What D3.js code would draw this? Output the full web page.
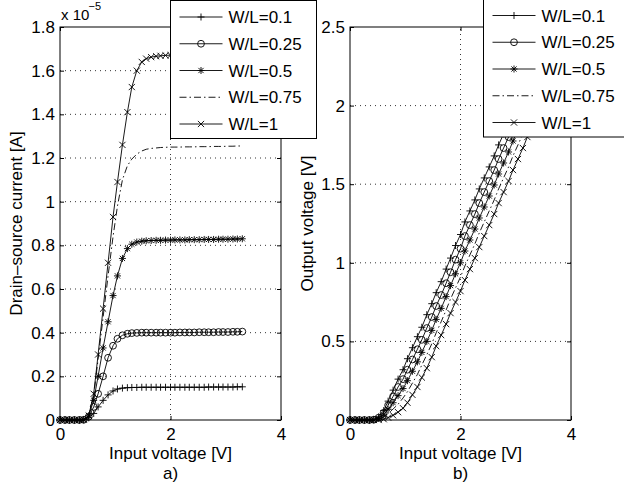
<!DOCTYPE html>
<html lang="en">
<head>
<meta charset="UTF-8">
<title>W/L sweep</title>
<script src="https://cdn.jsdelivr.net/npm/d3@7"></script>
<style>
  body { margin: 0; background: #fff; }
  text { font-family: "Liberation Sans", Arial, Helvetica, sans-serif; fill: #000; }
</style>
</head>
<body>
<svg id="chart" width="624" height="488"></svg>
<script>
// input voltage sweep [V]
var vin = [0, 0.09, 0.17, 0.26, 0.35, 0.43, 0.52, 0.61, 0.69, 0.78, 0.87, 0.96, 1.04, 1.13, 1.22, 1.30, 1.39, 1.48, 1.56, 1.65,
           1.74, 1.82, 1.91, 2.00, 2.08, 2.17, 2.26, 2.34, 2.43, 2.52, 2.61, 2.69, 2.78, 2.87, 2.95, 3.04, 3.13, 3.21, 3.30];

// a) drain-source current, in units of 1e-5 A
var idWL01  = [0,0,0,0,0,0.001,0.01,0.03,0.06,0.09,0.115,0.133,0.142,0.146,0.148,0.149,0.149,
               0.15,0.15,0.15,0.15,0.15,0.15,0.15,0.15,0.15,0.15,0.15,0.15,0.15,0.15,0.151,0.151,0.151,0.151,0.151,0.151,0.152,0.152];
var idWL025 = [0,0,0,0,0,0.001,0.015,0.06,0.12,0.2,0.285,0.34,0.372,0.388,0.395,0.398,0.399,
               0.4,0.4,0.4,0.4,0.4,0.4,0.4,0.4,0.401,0.401,0.401,0.401,0.402,0.402,0.402,0.402,0.403,0.403,0.403,0.404,0.404,0.405];
var idWL05  = [0,0,0,0,0,0.002,0.02,0.09,0.2,0.33,0.45,0.57,0.66,0.74,0.785,0.805,0.815,0.819,0.821,0.822,0.823,
               0.823,0.824,0.824,0.825,0.825,0.825,0.826,0.826,0.826,0.827,0.827,0.827,0.828,0.828,0.828,0.829,0.829,0.83];
var idWL075 = [0,0,0,0,0,0.002,0.02,0.11,0.28,0.47,0.66,0.84,0.98,1.10,1.165,1.195,1.218,1.232,1.24,1.244,1.246,1.248,1.249,
               1.25,1.25,1.25,1.251,1.251,1.251,1.252,1.252,1.252,1.253,1.253,1.253,1.254,1.254,1.255,1.255];
var idWL1   = [0,0,0,0,0,0.002,0.02,0.12,0.30,0.51,0.72,0.93,1.09,1.26,1.41,1.525,1.60,1.64,1.655,1.662,1.666,1.668,1.67,
               1.671,1.672,1.672,1.673,1.673,1.674,1.674,1.675,1.675,1.676,1.676,1.677,1.677,1.678,1.678,1.679];

// b) output voltage [V]
var voutWL01  = [0,0,0,0,0,0.003,0.02,0.06,0.12,0.19,0.26,0.32,0.39,0.46,0.53,0.59,0.67,0.74,0.81,0.88,0.96,1.03,1.11,1.18,
                 1.26,1.33,1.40,1.47,1.54,1.61,1.68,1.75,1.82,1.89,1.96,2.03,2.10,2.17,2.24];
var voutWL025 = [0,0,0,0,0,0.002,0.015,0.046,0.094,0.15,0.21,0.26,0.32,0.385,0.45,0.51,0.585,0.655,0.725,0.795,0.87,0.94,1.02,
                 1.09,1.17,1.24,1.31,1.38,1.45,1.52,1.59,1.66,1.73,1.80,1.87,1.94,2.01,2.08,2.15];
var voutWL05  = [0,0,0,0,0,0.001,0.01,0.033,0.068,0.11,0.155,0.20,0.25,0.31,0.37,0.43,0.50,0.57,0.64,0.71,0.785,0.855,0.93,
                 1.00,1.075,1.145,1.215,1.285,1.355,1.425,1.495,1.565,1.635,1.705,1.775,1.845,1.915,1.985,2.055];
var voutWL075 = [0,0,0,0,0,0.001,0.005,0.019,0.041,0.07,0.10,0.14,0.18,0.235,0.29,0.35,0.415,0.485,0.555,0.625,0.70,0.77,0.84,
                 0.91,0.98,1.05,1.12,1.19,1.26,1.33,1.40,1.47,1.54,1.61,1.68,1.75,1.82,1.89,1.96];
var voutWL1   = [0,0,0,0,0,0,0,0.005,0.015,0.03,0.05,0.075,0.11,0.16,0.21,0.27,0.33,0.40,0.47,0.54,0.61,0.68,0.75,0.82,
                 0.89,0.96,1.03,1.10,1.17,1.24,1.31,1.38,1.45,1.52,1.59,1.66,1.73,1.80,1.87];

var seriesNames = ["W/L=0.1", "W/L=0.25", "W/L=0.5", "W/L=0.75", "W/L=1"];
var markers = ["plus", "circle", "star", "none", "cross"];

var xTicks = [0, 2, 4];
var yTicksA = [0, 0.2, 0.4, 0.6, 0.8, 1, 1.2, 1.4, 1.6, 1.8];
var yTicksB = [0, 0.5, 1, 1.5, 2, 2.5];

var svg = d3.select("#chart");

function markerPath(type) {
    var r = 3.5, c = 3.1;
    if (type == "plus") return "M" + (-r) + ",0H" + r + "M0," + (-r) + "V" + r;
    if (type == "cross") return "M" + (-c) + "," + (-c) + "L" + c + "," + c + "M" + (-c) + "," + c + "L" + c + "," + (-c);
    if (type == "star") return "M" + (-r) + ",0H" + r + "M0," + (-r) + "V" + r +
        "M" + (-2.6) + "," + (-2.6) + "L2.6,2.6M-2.6,2.6L2.6,-2.6";
    return "";
}

function drawMarker(g, type, x, y) {
    if (type == "none") return;
    if (type == "circle") {
        g.append("circle").attr("cx", x).attr("cy", y).attr("r", 3.4)
            .attr("fill", "none").attr("stroke", "#000").attr("stroke-width", 0.9);
    } else {
        g.append("path").attr("d", markerPath(type))
            .attr("transform", "translate(" + x + "," + y + ")")
            .attr("fill", "none").attr("stroke", "#000").attr("stroke-width", 0.9);
    }
}

function drawPanel(p) {
    var x = d3.scaleLinear().domain([0, 4]).range([p.left, p.left + 221]);
    var y = d3.scaleLinear().domain([0, p.ymax]).range([420, 27]);
    var g = svg.append("g");

    // dotted grid
    xTicks.slice(1, -1).forEach(function(t) {
        g.append("line").attr("x1", x(t)).attr("x2", x(t)).attr("y1", y(0)).attr("y2", y(p.ymax))
            .attr("stroke", "#000").attr("stroke-width", 0.8).attr("stroke-dasharray", "1,4");
    });
    p.yTicks.slice(1, -1).forEach(function(t) {
        g.append("line").attr("x1", x(0)).attr("x2", x(4)).attr("y1", y(t)).attr("y2", y(t))
            .attr("stroke", "#000").attr("stroke-width", 0.8).attr("stroke-dasharray", "1,4");
    });

    // axes, ticks inward
    var fmt = function(d) { return String(d); };
    g.append("g").attr("transform", "translate(0,420)")
        .call(d3.axisBottom(x).tickValues(xTicks).tickFormat(fmt).tickSize(-4).tickSizeOuter(0).tickPadding(8));
    g.append("g").attr("transform", "translate(" + x(0) + ",0)")
        .call(d3.axisLeft(y).tickValues(p.yTicks).tickFormat(fmt).tickSize(-4).tickSizeOuter(0).tickPadding(5));
    g.append("g").attr("transform", "translate(0," + y(p.ymax) + ")")
        .call(d3.axisTop(x).tickValues(xTicks).tickFormat("").tickSize(-4).tickSizeOuter(0));
    g.append("g").attr("transform", "translate(" + x(4) + ",0)")
        .call(d3.axisRight(y).tickValues(p.yTicks).tickFormat("").tickSize(-4).tickSizeOuter(0));
    g.selectAll(".tick text").attr("font-size", 17).attr("fill", "#000");
    g.selectAll(".domain").remove();
    g.selectAll(".tick line").attr("stroke", "#000");

    g.append("rect").attr("x", x(0)).attr("y", y(p.ymax)).attr("width", x(4) - x(0)).attr("height", y(0) - y(p.ymax))
        .attr("fill", "none").attr("stroke", "#000").attr("stroke-width", 1);

    // curves
    var line = d3.line().x(function(d) { return x(d[0]); }).y(function(d) { return y(d[1]); });
    p.series.forEach(function(vals, i) {
        var pts = vin.map(function(v, k) { return [v, vals[k]]; });
        g.append("path").attr("d", line(pts)).attr("fill", "none").attr("stroke", "#000")
            .attr("stroke-width", 0.9)
            .attr("stroke-dasharray", markers[i] == "none" ? "7,3,1.5,3" : null);
        pts.forEach(function(d) { drawMarker(g, markers[i], x(d[0]), y(d[1])); });
    });

    // labels
    svg.append("text").attr("x", x(2)).attr("y", 459).attr("text-anchor", "middle")
        .attr("font-size", 17).text("Input voltage [V]");
    svg.append("text").attr("x", x(2)).attr("y", 479).attr("text-anchor", "middle")
        .attr("font-size", 17).text(p.tag);
    svg.append("text").attr("transform", "translate(" + p.ylabelX + "," + y(p.ymax / 2) + ") rotate(-90)")
        .attr("text-anchor", "middle").attr("font-size", 17).text(p.ylabel);

    // legend
    var lg = svg.append("g").attr("transform", "translate(" + p.legX + "," + p.legY + ")");
    lg.append("rect").attr("x", 0).attr("y", 0).attr("width", 146).attr("height", 138)
        .attr("fill", "#fff").attr("stroke", "#000").attr("stroke-width", 1);
    seriesNames.forEach(function(name, i) {
        var cy = 16.5 + i * 26.75;
        lg.append("line").attr("x1", 9).attr("x2", 52).attr("y1", cy).attr("y2", cy)
            .attr("stroke", "#000").attr("stroke-width", 0.9)
            .attr("stroke-dasharray", markers[i] == "none" ? "7,3,1.5,3" : null);
        drawMarker(lg, markers[i], 30.5, cy);
        lg.append("text").attr("x", 58).attr("y", cy + 6).attr("font-size", 17).text(name);
    });
}

drawPanel({
    left: 60, ymax: 1.8, yTicks: yTicksA, tag: "a)",
    ylabel: "Drain\u2013source current [A]", ylabelX: 22,
    series: [idWL01, idWL025, idWL05, idWL075, idWL1],
    legX: 170.5, legY: 0.5
});
drawPanel({
    left: 350, ymax: 2.5, yTicks: yTicksB, tag: "b)",
    ylabel: "Output voltage [V]", ylabelX: 313,
    series: [voutWL01, voutWL025, voutWL05, voutWL075, voutWL1],
    legX: 483.5, legY: -1
});

// exponent of the left y axis
svg.append("text").attr("x", 61).attr("y", 20).attr("font-size", 15).text("x 10");
svg.append("text").attr("x", 88.5).attr("y", 10).attr("font-size", 11).text("\u22125");
</script>
</body>
</html>
